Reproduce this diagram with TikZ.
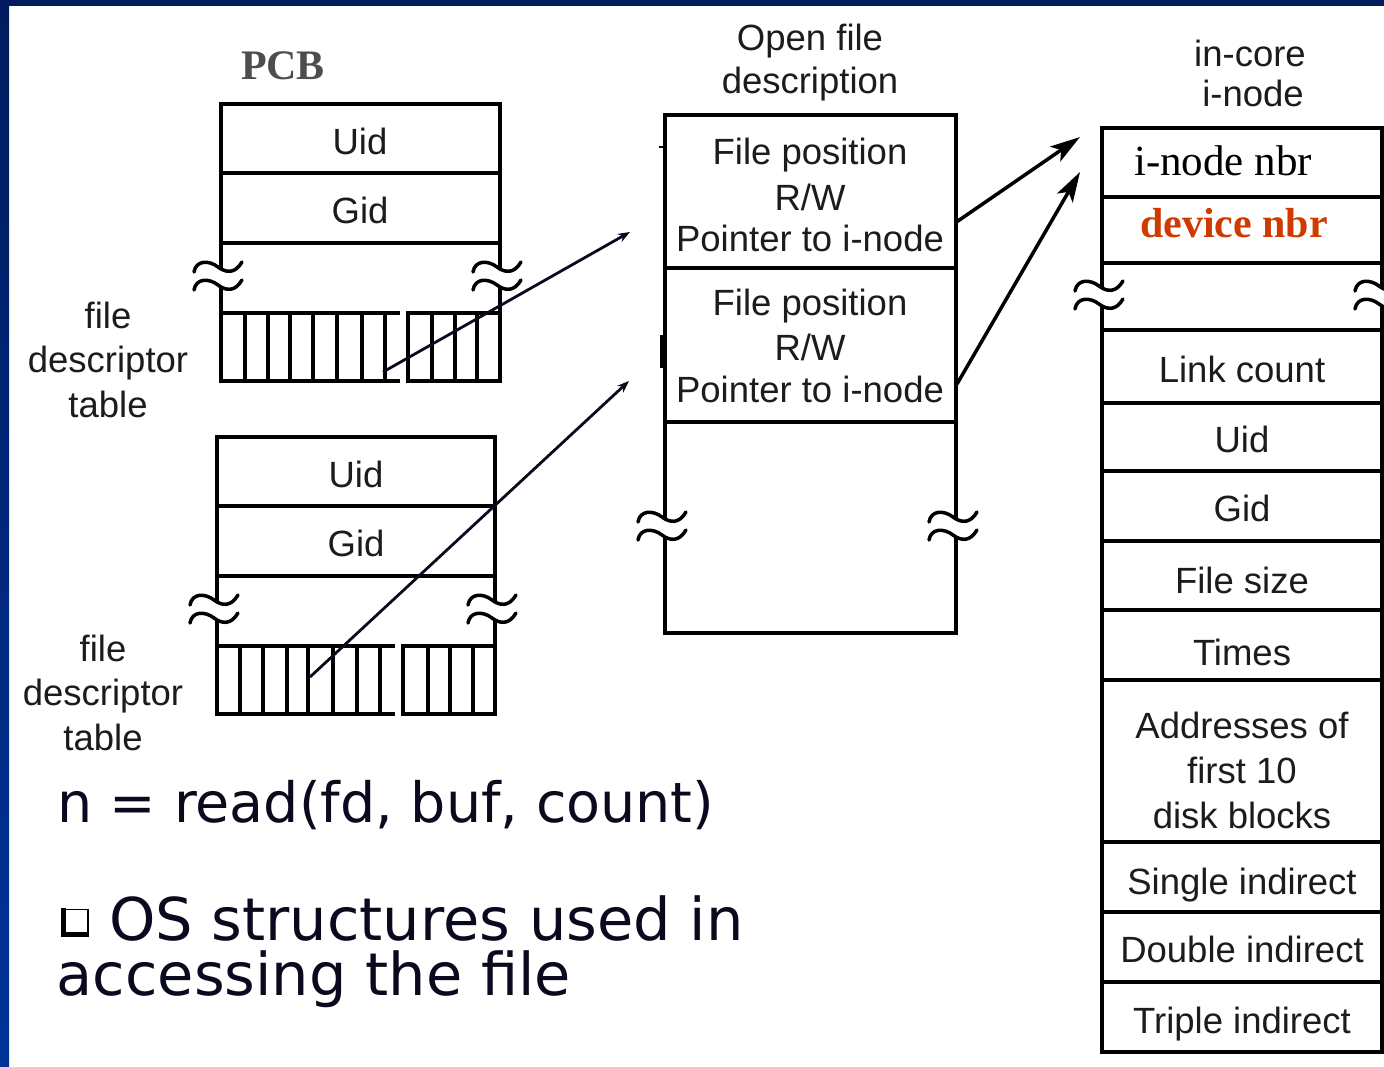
\documentclass[tikz,border=0pt]{standalone}
\usepackage{fontspec}
\setmainfont{Liberation Sans}
\newfontfamily\serifface{Liberation Serif}
\newfontfamily\slideface{DejaVu Sans}
\usetikzlibrary{arrows.meta}
\definecolor{navy}{HTML}{001C5E}
\definecolor{frameblue}{HTML}{003399}
\definecolor{ink}{HTML}{1C1C1C}
\definecolor{pcbgray}{HTML}{4D4D4D}
\definecolor{devred}{HTML}{CF3A00}
\definecolor{slidetext}{HTML}{0A0A1E}
\begin{document}
\begin{tikzpicture}[x=1pt,y=-1pt,
  frame/.style={draw=black, line width=3.5pt},
  tilde/.style={draw=black, line width=3.5pt, line cap=round},
  lbl/.style={font=\fontsize{36.5}{44}\selectfont, text=ink, inner sep=0pt,
              text height=26pt, text depth=0pt},
  inodeserif/.style={font=\serifface\fontsize{43}{50}\selectfont, inner sep=0pt, anchor=base},
  slide/.style={font=\slideface\fontsize{59}{60}\selectfont, text=slidetext,
                inner sep=0pt, anchor=base west},
  smallarrow/.style={draw=slidetext, line width=2.8pt, -{Stealth[length=12pt,width=9pt]}},
  bigarrow/.style={draw=black, line width=3.5pt, -{Stealth[length=30pt,width=18pt,inset=7pt]}},
  brk/.pic={
    \draw[tilde] (-27,-5) .. controls (-25,-17) and (-12,-17) .. (-3,-10)
                 .. controls (5,-4) and (14,-3) .. (21,-15);
    \draw[tilde] (-27,13) .. controls (-25,1) and (-12,1) .. (-3,8)
                 .. controls (5,14) and (14,15) .. (21,3);
  },
]
\useasboundingbox (0,0) rectangle (1384,1066);
\fill[white] (0,0) rectangle (1384,1066);

% slide frame: blue strip on the left and along the top
\shade[top color=navy, bottom color=frameblue] (0,0) rectangle (9,1066);
\fill[navy] (0,0) rectangle (1384,5.5);

% ---------------- first PCB ----------------
\node[font=\serifface\bfseries\fontsize{42}{50}\selectfont, text=pcbgray,
      inner sep=0pt, anchor=base] (pcb) at (283,79) {PCB};
\draw[frame] (221,104) rectangle (500,243);
\draw[frame] (221,173) -- (500,173);
\draw[frame] (221,243) -- (221,269) (221,287) -- (221,313);
\draw[frame] (500,243) -- (500,269) (500,287) -- (500,313);
\pic at (221,277) {brk};
\pic at (500,277) {brk};
\draw[frame] (400,313) -- (221,313) -- (221,381) -- (400,381);
\foreach \x in {245,268,290,313,337,362,385} \draw[frame] (\x,313) -- (\x,381);
\draw[frame] (408,313) rectangle (500,381);
\foreach \x in {432,455,477} \draw[frame] (\x,313) -- (\x,381);
\node[lbl] (uidA) at (360,141) {Uid};
\node[lbl] (gidA) at (360,210) {Gid};
\node[lbl] (fdtA1) at (108,315) {file};
\node[lbl] (fdtA2) at (108,359) {descriptor};
\node[lbl] (fdtA3) at (108,404) {table};

% ---------------- second PCB ----------------
\draw[frame] (217,437) rectangle (495,576);
\draw[frame] (217,506) -- (495,506);
\draw[frame] (217,576) -- (217,602) (217,620) -- (217,646);
\draw[frame] (495,576) -- (495,602) (495,620) -- (495,646);
\pic at (217,610) {brk};
\pic at (495,610) {brk};
\draw[frame] (395,646) -- (217,646) -- (217,714) -- (395,714);
\foreach \x in {240,263,287,308,333,357,380} \draw[frame] (\x,646) -- (\x,714);
\draw[frame] (403,646) rectangle (495,714);
\foreach \x in {428,450,473} \draw[frame] (\x,646) -- (\x,714);
\node[lbl] (uidB) at (356,474) {Uid};
\node[lbl] (gidB) at (356,543) {Gid};
\node[lbl] (fdtB1) at (103,648) {file};
\node[lbl] (fdtB2) at (103,692) {descriptor};
\node[lbl] (fdtB3) at (103,737) {table};

% ---------------- open file descriptions ----------------
\node[lbl] (ofdT1) at (810,37) {Open file};
\node[lbl] (ofdT2) at (810,80) {description};
\draw[frame] (665,115) rectangle (956,422);
\draw[frame] (665,268) -- (956,268);
\draw[frame] (665,422) -- (665,519) (956,422) -- (956,519);
\draw[frame] (665,537) -- (665,633) -- (956,633) -- (956,537);
\pic at (665,527) {brk};
\pic at (956,527) {brk};
\draw[line width=2pt] (659,147) -- (665,147);
\fill (660,335) rectangle (666,368);
\node[lbl] (ofdA1) at (810,151) {File position};
\node[lbl] (ofdA2) at (810,197) {R/W};
\node[lbl] (ofdA3) at (810,238) {Pointer to i-node};
\node[lbl] (ofdB1) at (810,302) {File position};
\node[lbl] (ofdB2) at (810,347) {R/W};
\node[lbl] (ofdB3) at (810,389) {Pointer to i-node};

% ---------------- in-core i-node ----------------
\node[lbl] (inoT1) at (1250,53) {in-core};
\node[lbl] (inoT2) at (1253,93) {i-node};
\draw[frame] (1102,128) rectangle (1382,263);
\draw[frame] (1102,197) -- (1382,197);
\draw[frame] (1102,263) -- (1102,288) (1102,306) -- (1102,330);
\draw[frame] (1382,263) -- (1382,288) (1382,306) -- (1382,330);
\pic at (1102,296) {brk};
\pic at (1382,296) {brk};
\draw[frame] (1102,330) rectangle (1382,1052);
\foreach \y in {403,471,541,610,680,842,912,982} \draw[frame] (1102,\y) -- (1382,\y);
\node[inodeserif, text=black] (inonbr) at (1223,175) {i-node nbr};
\node[inodeserif, text=devred, font=\serifface\bfseries\fontsize{42}{50}\selectfont] (devnbr) at (1234,237) {device nbr};
\node[lbl] (links) at (1242,369) {Link count};
\node[lbl] (uidC) at (1242,439) {Uid};
\node[lbl] (gidC) at (1242,508) {Gid};
\node[lbl] (fsize) at (1242,580) {File size};
\node[lbl] (times) at (1242,652) {Times};
\node[lbl] (addr1) at (1242,725) {Addresses of};
\node[lbl] (addr2) at (1242,770) {first 10};
\node[lbl] (addr3) at (1242,815) {disk blocks};
\node[lbl] (sind) at (1242,881) {Single indirect};
\node[lbl] (dind) at (1242,949) {Double indirect};
\node[lbl] (tind) at (1242,1020) {Triple indirect};

% ---------------- pointers ----------------
\coordinate (fdslotA) at (383,372);
\coordinate (fdslotB) at (310,677);
\coordinate (ofdinA) at (630,232);
\coordinate (ofdinB) at (629,381);
\coordinate (ptrA) at (955,223);
\coordinate (ptrB) at (957,384);
\coordinate (inoinA) at (1080,137);
\coordinate (inoinB) at (1080,172);
\draw[smallarrow] (fdslotA) -- (ofdinA);
\draw[smallarrow] (fdslotB) -- (ofdinB);
\draw[bigarrow] (ptrA) -- (inoinA);
\draw[bigarrow] (ptrB) -- (inoinB);

% ---------------- slide text ----------------
\node[slide, font=\slideface\fontsize{55.5}{60}\selectfont] (call) at (57,822) {n = read(fd, buf, count)};
\draw[line width=1.5pt] (64,909.5) rectangle (88,934);
\fill (61,908) rectangle (66,937);
\fill (61,932) rectangle (89,937);
\node[slide] (cap1) at (109,940) {OS structures used in};
\node[slide] (cap2) at (56.5,995) {accessing the file};
\end{tikzpicture}
\end{document}
